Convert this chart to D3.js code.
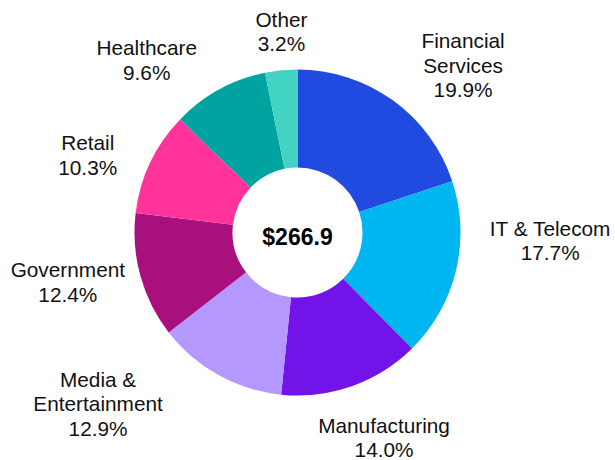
<!DOCTYPE html>
<html>
<head>
<meta charset="utf-8">
<script src="https://cdn.jsdelivr.net/npm/d3@7"></script>
<style>
  html, body { margin: 0; padding: 0; background: #fff; }
  svg { display: block; }
</style>
</head>
<body>
<div id="donut-chart"></div>
<script>
const categories = ["Financial Services", "IT & Telecom", "Manufacturing", "Media & Entertainment",
    "Government", "Retail", "Healthcare", "Other"];
const shares = [19.9, 17.7, 14.0, 12.9, 12.4, 10.3, 9.6, 3.2];
const sliceColors = ["#214BE0", "#00B6F0", "#7213EA", "#B598FD", "#A8107E", "#FF3399", "#00A3A0", "#42D3C3"];
// how each label is broken into lines
const labelLines = [["Financial", "Services"], ["IT & Telecom"], ["Manufacturing"], ["Media &", "Entertainment"],
    ["Government"], ["Retail"], ["Healthcare"], ["Other"]];
const totalLabel = "$266.9";

function makeDonutChart() {
    const width = 615;
    const height = 460;
    const cx = 297.5;
    const cy = 232.5;
    const outerR = 163;
    const innerR = 65;
    const labelR = 230;
    const lineH = 24.3;

    // hand placed labels, like the original (dx, dy from the label-arc centroid)
    const labelNudge = [[31, 19], [29, -46], [10, -12], [-88, -30], [-8, -12], [-2, 21], [-40, 29], [7, 28]];

    const data = categories.map((c, i) => ({ name: c, value: shares[i], i: i }));

    const svg = d3
        .select("#donut-chart")
        .append("svg")
        .attr("width", width)
        .attr("height", height);

    const g = svg.append("g").attr("transform", `translate(${cx}, ${cy})`);

    const color = d3.scaleOrdinal().domain(categories).range(sliceColors);

    const pie = d3
        .pie()
        .sort(null)
        .value((d) => d.value);

    const arc = d3.arc().innerRadius(innerR).outerRadius(outerR);
    const labelArc = d3.arc().innerRadius(labelR).outerRadius(labelR);

    const arcs = pie(data);

    g.selectAll(".slice")
        .data(arcs)
        .enter()
        .append("path")
        .attr("class", "slice")
        .attr("d", arc)
        .attr("fill", (d) => color(d.data.name));

    const labels = g
        .selectAll(".label")
        .data(arcs)
        .enter()
        .append("text")
        .attr("class", "label")
        .attr("text-anchor", "middle")
        .style("font-family", "'Liberation Sans', Arial, sans-serif")
        .style("font-size", "20.8px")
        .attr("fill", "#111");

    labels.each(function (d) {
        const [x0, y0] = labelArc.centroid(d);
        const nudge = labelNudge[d.data.i];
        const x = x0 + nudge[0];
        const y = y0 + nudge[1];
        const lines = labelLines[d.data.i].concat([d.data.value.toFixed(1) + "%"]);
        const first = y - ((lines.length - 1) * lineH) / 2 + 7.5;
        d3.select(this)
            .selectAll("tspan")
            .data(lines)
            .enter()
            .append("tspan")
            .attr("x", x)
            .attr("y", (t, k) => first + k * lineH)
            .text((t) => t);
    });

    g.append("text")
        .attr("text-anchor", "middle")
        .attr("y", 12.5)
        .style("font-family", "'Liberation Sans', Arial, sans-serif")
        .style("font-size", "23px")
        .style("font-weight", "bold")
        .attr("fill", "#000")
        .text(totalLabel);
}

makeDonutChart();
</script>
</body>
</html>
